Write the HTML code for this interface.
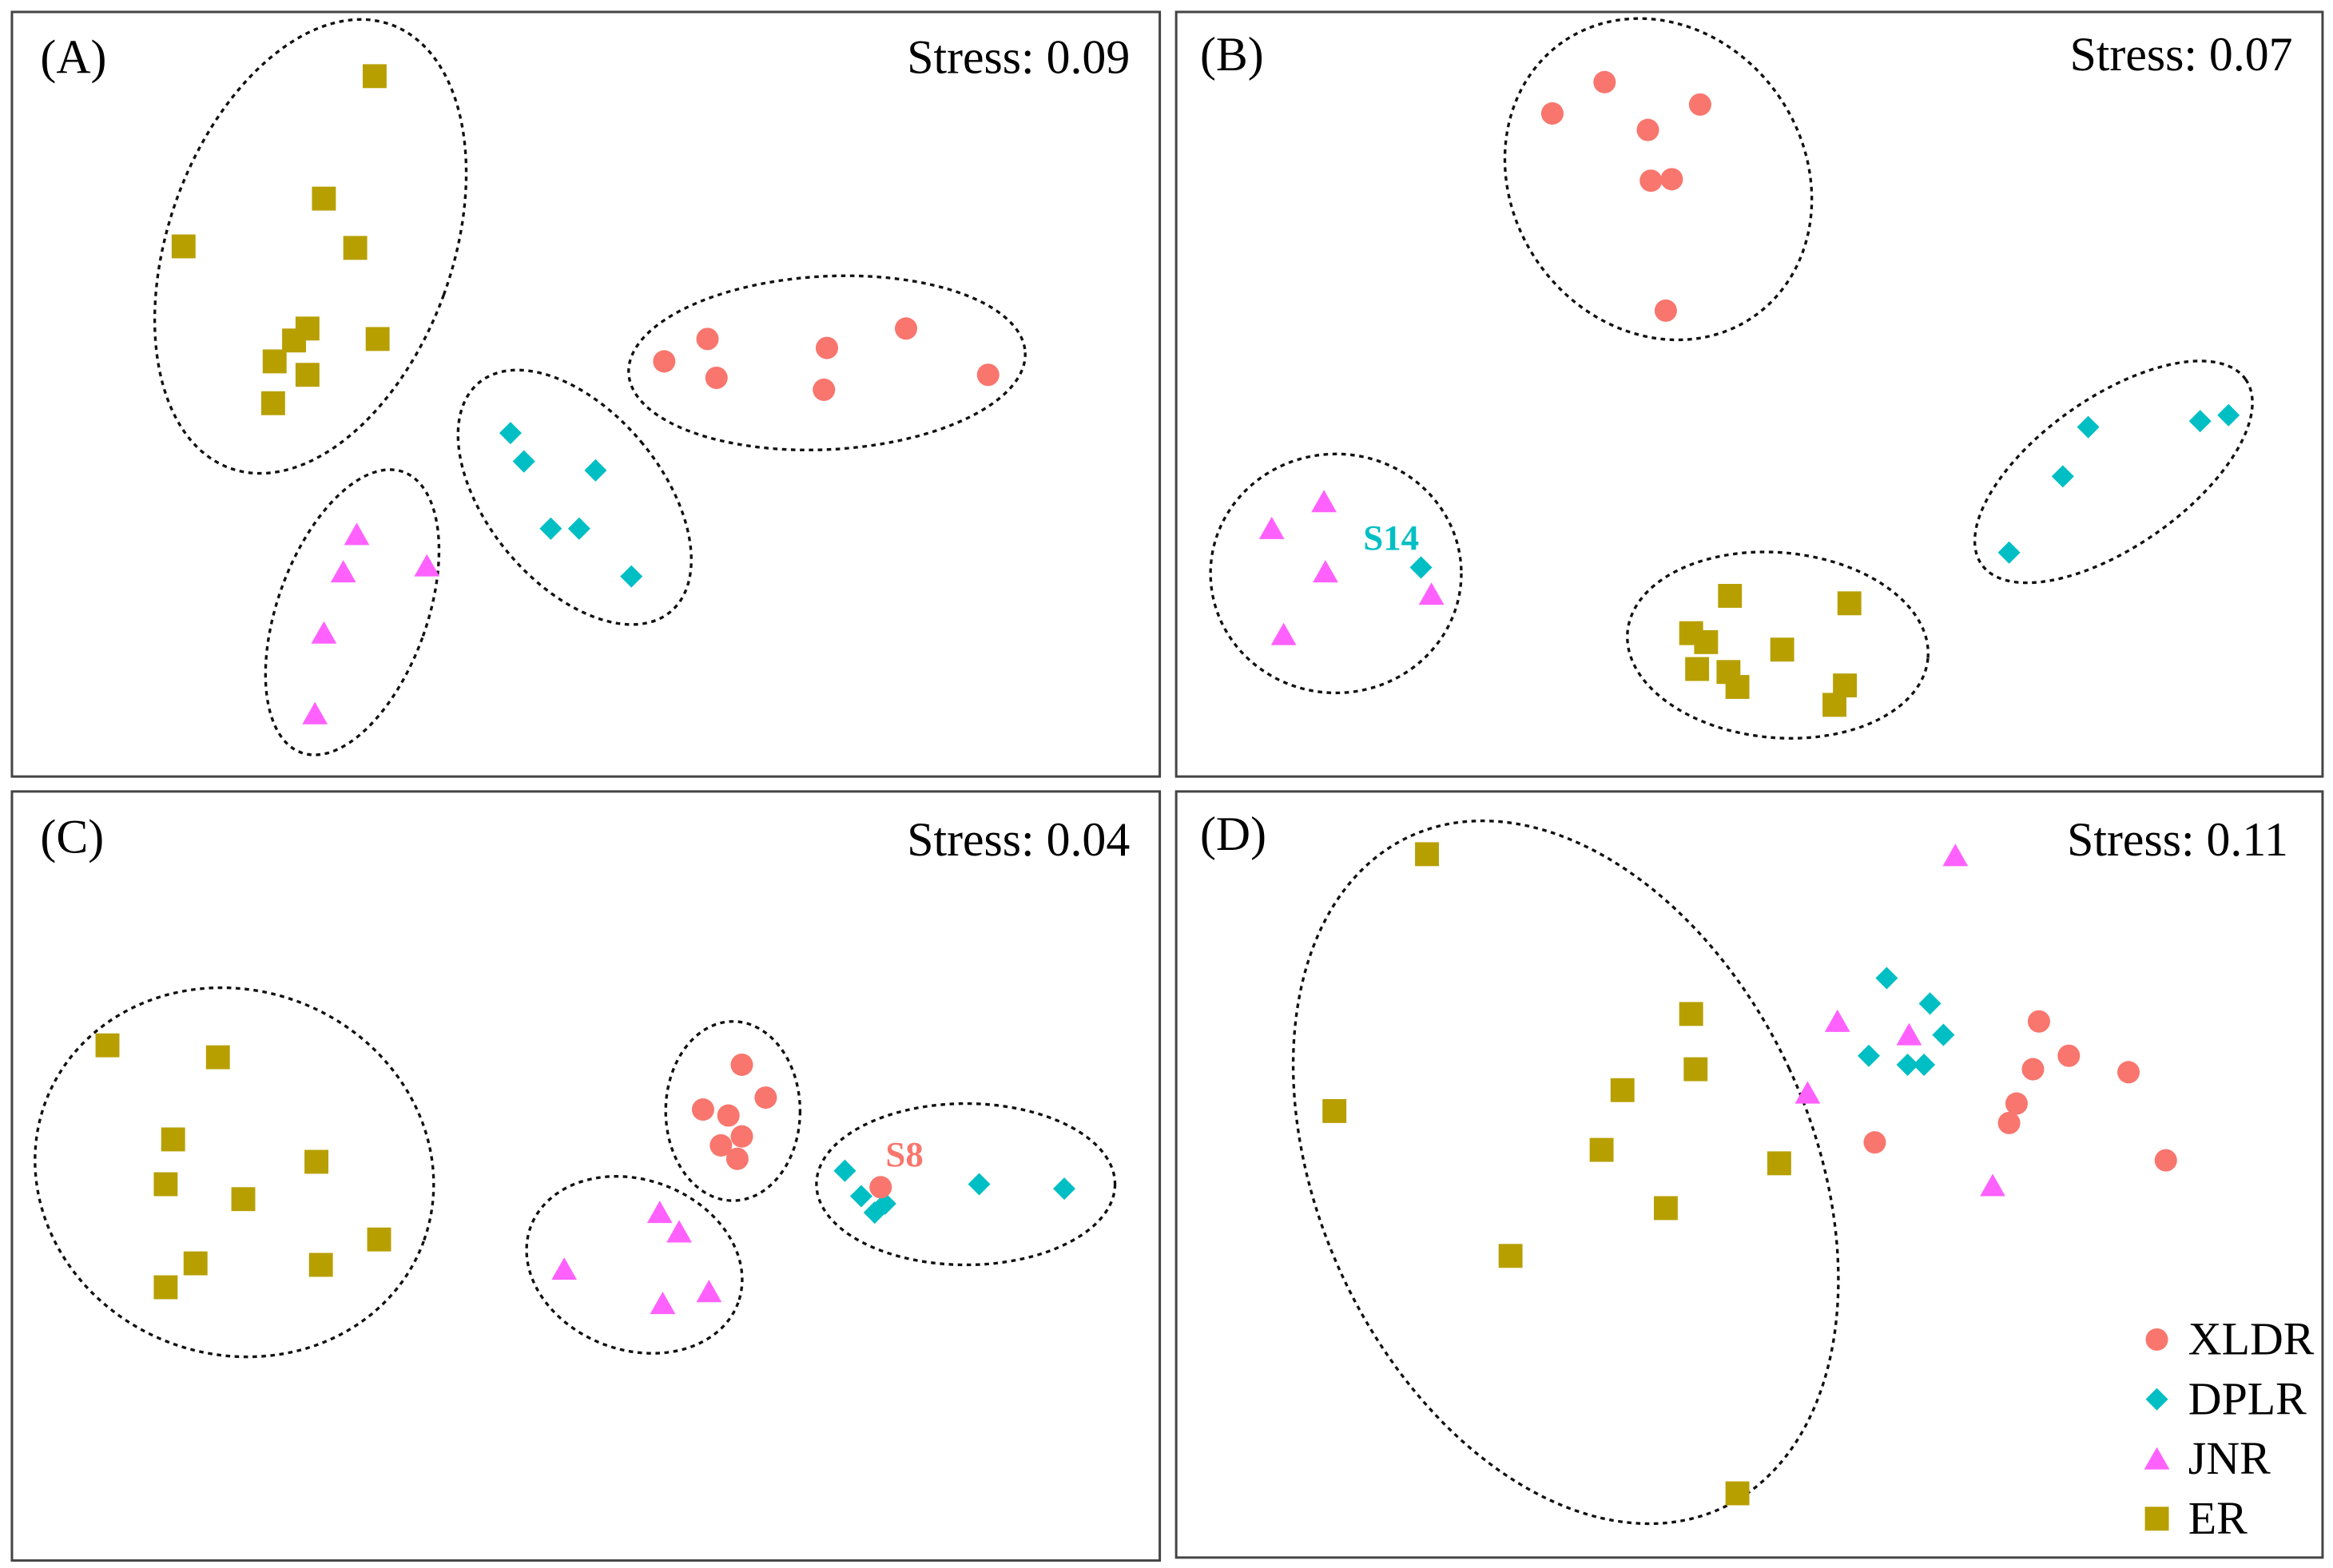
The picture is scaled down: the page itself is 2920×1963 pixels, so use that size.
<!DOCTYPE html>
<html><head><meta charset="utf-8"><style>
html,body{margin:0;padding:0;background:#fff;}
svg{display:block;}
text{font-family:"Liberation Serif",serif;}
</style></head><body>
<svg width="2920" height="1963" viewBox="0 0 1563 1050" preserveAspectRatio="none" xmlns="http://www.w3.org/2000/svg">
<defs>
<rect id="sq" x="-8" y="-8" width="16" height="16" fill="#B79F00"/>
<circle id="ci" r="7.5" fill="#F8766D"/>
<polygon id="di" points="0,-7.5 7.5,0 0,7.5 -7.5,0" fill="#00BFC4"/>
<polygon id="tr" points="0,-9 8.5,6 -8.5,6" fill="#FF61FF"/>
</defs>
<rect width="1563" height="1050" fill="#fff"/>
<g fill="none" stroke="#444" stroke-width="1.6">
<rect x="8" y="8" width="769" height="512"/>
<rect x="788" y="8" width="768" height="512"/>
<rect x="8" y="530" width="769" height="515"/>
<rect x="788" y="530" width="768" height="513"/>
</g>
<g font-size="32" fill="#000">
<text x="27" y="49">(A)</text><text x="757" y="49" text-anchor="end">Stress: 0.09</text>
<text x="804" y="47">(B)</text><text x="1536" y="47" text-anchor="end">Stress: 0.07</text>
<text x="27" y="571">(C)</text><text x="757" y="573" text-anchor="end">Stress: 0.04</text>
<text x="804" y="569">(D)</text><text x="1533" y="573" text-anchor="end">Stress: 0.11</text>
</g>
<g fill="none" stroke="#111" stroke-width="1.8" stroke-dasharray="3,3">
<ellipse cx="208" cy="165" rx="95" ry="158" transform="rotate(20 208 165)"/>
<ellipse cx="236" cy="410" rx="50" ry="100" transform="rotate(20 236 410)"/>
<ellipse cx="385" cy="333" rx="58" ry="100" transform="rotate(-40 385 333)"/>
<ellipse cx="554" cy="243" rx="133" ry="58" transform="rotate(-3 554 243)"/>
<ellipse cx="1111" cy="120" rx="98" ry="112" transform="rotate(-35 1111 120)"/>
<ellipse cx="895" cy="384" rx="84" ry="80"/>
<ellipse cx="1191" cy="432" rx="101" ry="62" transform="rotate(5 1191 432)"/>
<ellipse cx="1416" cy="316" rx="108" ry="50" transform="rotate(-35 1416 316)"/>
<ellipse cx="157" cy="785" rx="135" ry="122" transform="rotate(20 157 785)"/>
<ellipse cx="491" cy="744" rx="45" ry="60"/>
<ellipse cx="425" cy="847" rx="74" ry="57" transform="rotate(20 425 847)"/>
<ellipse cx="647" cy="793" rx="100" ry="54"/>
<ellipse cx="1049" cy="785" rx="165" ry="248" transform="rotate(-25 1049 785)"/>
</g>
<!-- A -->
<use href="#sq" x="251" y="51"/><use href="#sq" x="217" y="133"/><use href="#sq" x="123" y="165"/><use href="#sq" x="238" y="166"/><use href="#sq" x="206" y="220"/><use href="#sq" x="197" y="228"/><use href="#sq" x="253" y="227"/><use href="#sq" x="184" y="242"/><use href="#sq" x="206" y="251"/><use href="#sq" x="183" y="270"/>
<use href="#ci" x="474" y="227"/><use href="#ci" x="445" y="242"/><use href="#ci" x="480" y="253"/><use href="#ci" x="554" y="233"/><use href="#ci" x="552" y="261"/><use href="#ci" x="607" y="220"/><use href="#ci" x="662" y="251"/>
<use href="#di" x="342" y="290"/><use href="#di" x="351" y="309"/><use href="#di" x="399" y="315"/><use href="#di" x="369" y="354"/><use href="#di" x="388" y="354"/><use href="#di" x="423" y="386"/>
<use href="#tr" x="239" y="359"/><use href="#tr" x="230" y="384"/><use href="#tr" x="286" y="380"/><use href="#tr" x="217" y="425"/><use href="#tr" x="211" y="479"/>
<!-- B -->
<use href="#ci" x="1075" y="55"/><use href="#ci" x="1040" y="76"/><use href="#ci" x="1104" y="87"/><use href="#ci" x="1139" y="70"/><use href="#ci" x="1106" y="121"/><use href="#ci" x="1120" y="120"/><use href="#ci" x="1116" y="208"/>
<use href="#di" x="1399" y="286"/><use href="#di" x="1474" y="282"/><use href="#di" x="1493" y="278"/><use href="#di" x="1382" y="319"/><use href="#di" x="1346" y="370"/><use href="#di" x="952" y="380"/>
<use href="#tr" x="887" y="337"/><use href="#tr" x="852" y="355"/><use href="#tr" x="888" y="384"/><use href="#tr" x="959" y="399"/><use href="#tr" x="860" y="426"/>
<use href="#sq" x="1159" y="399"/><use href="#sq" x="1239" y="404"/><use href="#sq" x="1133" y="424"/><use href="#sq" x="1143" y="430"/><use href="#sq" x="1194" y="435"/><use href="#sq" x="1137" y="448"/><use href="#sq" x="1158" y="450"/><use href="#sq" x="1164" y="460"/><use href="#sq" x="1236" y="459"/><use href="#sq" x="1229" y="472"/>
<text x="932" y="368" font-size="24" font-weight="bold" fill="#00BFC4" text-anchor="middle">S14</text>
<!-- C -->
<use href="#sq" x="72" y="700"/><use href="#sq" x="146" y="708"/><use href="#sq" x="116" y="763"/><use href="#sq" x="111" y="793"/><use href="#sq" x="212" y="778"/><use href="#sq" x="163" y="803"/><use href="#sq" x="254" y="830"/><use href="#sq" x="131" y="846"/><use href="#sq" x="215" y="847"/><use href="#sq" x="111" y="862"/>
<use href="#ci" x="497" y="713"/><use href="#ci" x="513" y="735"/><use href="#ci" x="471" y="743"/><use href="#ci" x="488" y="747"/><use href="#ci" x="497" y="761"/><use href="#ci" x="483" y="767"/><use href="#ci" x="494" y="776"/>
<use href="#di" x="566" y="784"/><use href="#di" x="577" y="801"/><use href="#di" x="586" y="812"/><use href="#di" x="593" y="806"/><use href="#di" x="656" y="793"/><use href="#di" x="713" y="796"/>
<use href="#ci" x="590" y="795"/>
<use href="#tr" x="442" y="813"/><use href="#tr" x="455" y="826"/><use href="#tr" x="378" y="851"/><use href="#tr" x="475" y="866"/><use href="#tr" x="444" y="874"/>
<text x="606" y="781" font-size="24" font-weight="bold" fill="#F8766D" text-anchor="middle">S8</text>
<!-- D -->
<use href="#sq" x="956" y="572"/><use href="#sq" x="1133" y="679"/><use href="#sq" x="1136" y="716"/><use href="#sq" x="1087" y="730"/><use href="#sq" x="894" y="744"/><use href="#sq" x="1073" y="770"/><use href="#sq" x="1192" y="779"/><use href="#sq" x="1116" y="809"/><use href="#sq" x="1012" y="841"/><use href="#sq" x="1164" y="1000"/>
<use href="#tr" x="1310" y="574"/><use href="#tr" x="1231" y="685"/><use href="#tr" x="1279" y="694"/><use href="#tr" x="1211" y="733"/><use href="#tr" x="1335" y="795"/>
<use href="#di" x="1264" y="655"/><use href="#di" x="1293" y="672"/><use href="#di" x="1302" y="693"/><use href="#di" x="1252" y="707"/><use href="#di" x="1278" y="713"/><use href="#di" x="1289" y="713"/>
<use href="#ci" x="1366" y="684"/><use href="#ci" x="1386" y="707"/><use href="#ci" x="1362" y="716"/><use href="#ci" x="1426" y="718"/><use href="#ci" x="1351" y="739"/><use href="#ci" x="1346" y="752"/><use href="#ci" x="1256" y="765"/><use href="#ci" x="1451" y="777"/>
<!-- legend -->
<use href="#ci" x="1445" y="897"/><use href="#di" x="1445" y="937"/><use href="#tr" x="1445" y="978"/><use href="#sq" x="1445" y="1017"/>
<g font-size="31" fill="#000">
<text x="1466" y="907">XLDR</text><text x="1466" y="947">DPLR</text><text x="1466" y="987">JNR</text><text x="1466" y="1027">ER</text>
</g>
</svg>
</body></html>
